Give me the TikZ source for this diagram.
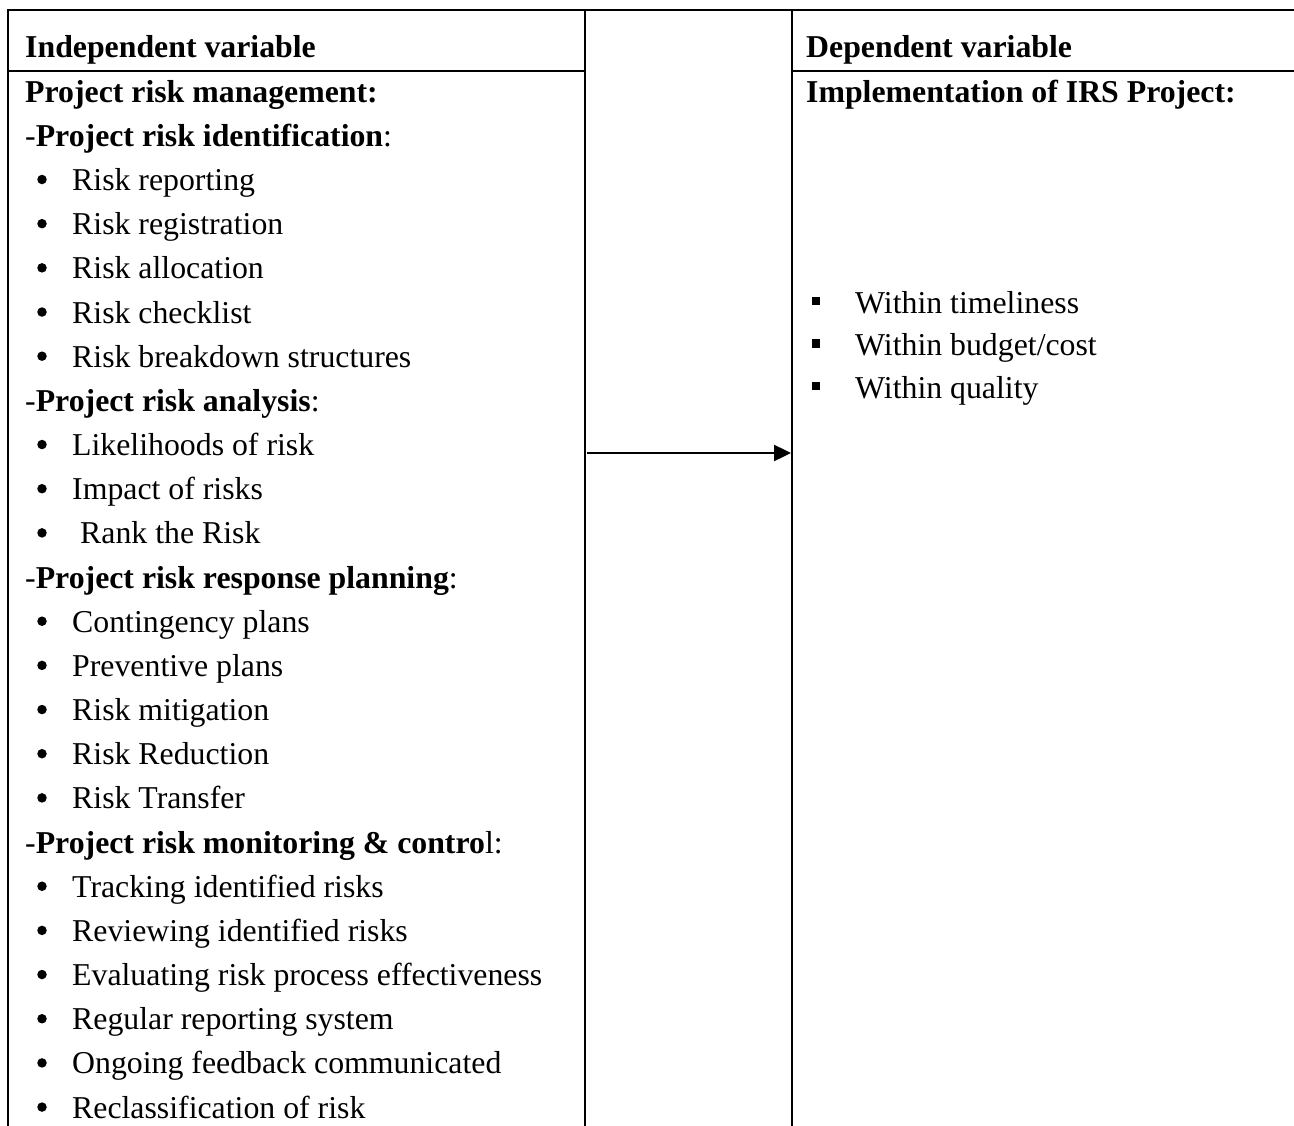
\documentclass[tikz,border=0pt]{standalone}
\usepackage{fontspec}
\setmainfont{Liberation Serif}
\usetikzlibrary{arrows.meta}
\begin{document}
\begin{tikzpicture}[x=1pt,y=-1pt,
  txt/.style={anchor=base west,inner sep=0pt,font=\fontsize{31.8}{38}\selectfont},
  dot/.style={circle,fill=black,inner sep=0pt,minimum size=9.5pt},
  sq/.style={rectangle,fill=black,inner sep=0pt,minimum size=8.5pt},
  rule/.style={line width=1.8pt},
  conn/.style={line width=2.4pt,-{Triangle[length=17pt,width=16pt]}}]
\useasboundingbox (0,0) rectangle (1294,1126);
% table rules
\draw[rule] (8,1130) -- (8,10) -- (1296,10);
\draw[rule] (585,10) -- (585,1130);
\draw[rule] (792,10) -- (792,1130);
\draw[rule] (8,71) -- (585,71);
\draw[rule] (792,71) -- (1296,71);
% left column
\node[txt] (h0) at (25,58) {\textbf{Independent variable}};
\node[txt] (h1) at (25,{58+44.17*1}) {\textbf{Project risk management:}};
\node[txt] (h2) at (25,{58+44.17*2}) {-\textbf{Project risk identification}:};
\node[txt] (h8) at (25,{58+44.17*8}) {-\textbf{Project risk analysis}:};
\node[txt] (h12) at (25,{58+44.17*12}) {-\textbf{Project risk response planning}:};
\node[txt] (h18) at (25,{58+44.17*18}) {-\textbf{Project risk monitoring \& contro}l:};
\foreach \i/\t in {3/Risk reporting,4/Risk registration,5/Risk allocation,6/Risk checklist,7/Risk breakdown structures,9/Likelihoods of risk,10/Impact of risks,13/Contingency plans,14/Preventive plans,15/Risk mitigation,16/Risk Reduction,17/Risk Transfer,19/Tracking identified risks,20/Reviewing identified risks,21/Evaluating risk process effectiveness,22/Regular reporting system,23/Ongoing feedback communicated,24/Reclassification of risk}{
  \node[dot] (b\i) at (42,{58+44.17*\i-11}) {};
  \node[txt] (t\i) at (72,{58+44.17*\i}) {\t};
}
\node[dot] (b11) at (42,{58+44.17*11-11}) {};
\node[txt] (t11) at (80,{58+44.17*11}) {Rank the Risk};
% right column
\node[txt] (r0) at (806,58) {\textbf{Dependent variable}};
\node[txt] (r1) at (806,{58+44.17}) {\textbf{Implementation of IRS Project:}};
\foreach \j/\y/\t in {1/313/{Within timeliness},2/355.5/{Within budget/cost},3/398/{Within quality}}{
  \node[sq] (s\j) at (816,{\y-12}) {};
  \node[txt] (w\j) at (855,\y) {\t};
}
% connector
\coordinate (arrS) at (587,453);
\coordinate (arrE) at (791,453);
\draw[conn] (arrS) -- (arrE);
\end{tikzpicture}
\end{document}
